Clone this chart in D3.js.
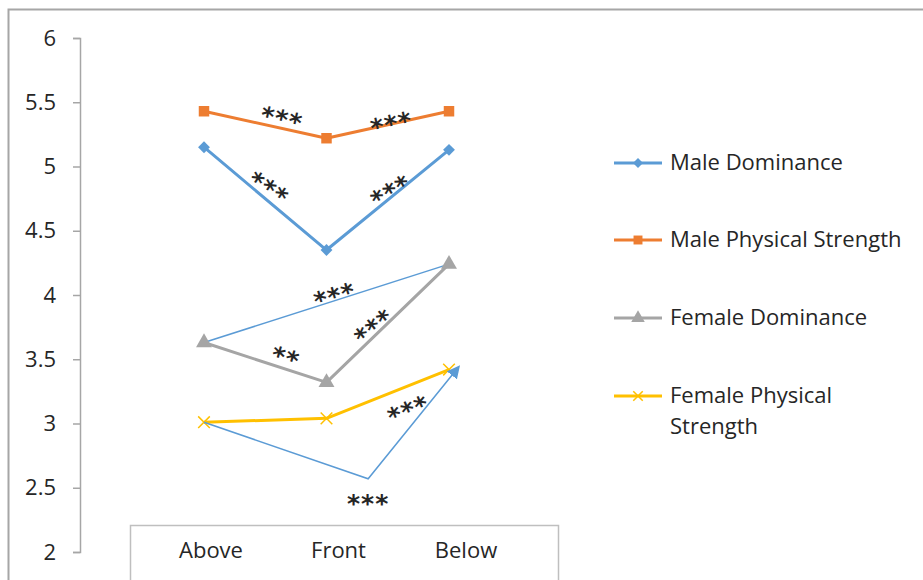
<!DOCTYPE html>
<html>
<head>
<meta charset="utf-8">
<script src="https://cdn.jsdelivr.net/npm/d3@7"></script>
<style>
  body { margin: 0; background: #fff; }
  text { font-family: "Open Sans", sans-serif; fill: #262626; }
</style>
</head>
<body>
<div id="chart"></div>
<script>
const categories = ['Above', 'Front', 'Below'];
const yTicks = [2, 2.5, 3, 3.5, 4, 4.5, 5, 5.5, 6];

const maleDominance = [5.15, 4.35, 5.13];
const malePhysical = [5.43, 5.22, 5.43];
const femaleDominance = [3.63, 3.32, 4.24];
const femalePhysical = [3.01, 3.04, 3.42];

const seriesNames = ['Male Dominance', 'Male Physical Strength', 'Female Dominance', 'Female Physical Strength'];
const seriesValues = [maleDominance, malePhysical, femaleDominance, femalePhysical];

// significance marks: [category position, value, label, tilt]
const starMarks = [
  [0.645, 5.42, '***', 13],
  [1.52, 5.38, '***', -12],
  [0.555, 4.87, '***', 33],
  [1.50, 4.85, '***', -30],
  [1.053, 4.04, '***', -16],
  [1.355, 3.79, '***', -38],
  [0.68, 3.56, '**', 16],
  [1.65, 3.15, '***', -22],
  [1.34, 2.43, '***', 0]
];

// thin comparison lines (category position, value)
const compareA = [[0, 3.63], [2, 4.24]];
const compareB = [[0, 3.01], [1.34, 2.57], [2.07, 3.43]];

const W = 923, H = 580;
const colors = ['#5B9BD5', '#ED7D31', '#A5A5A5', '#FFC000'];
const symbols = [d3.symbolSquare, d3.symbolSquare, d3.symbolTriangle, d3.symbolX];
const symRot = [45, 0, 0, 0];
const symSize = [70, 110, 110, 90];

const svg = d3.select('#chart').append('svg')
  .attr('width', W).attr('height', H);

svg.append('defs').append('marker')
  .attr('id', 'arrow')
  .attr('viewBox', '0 0 10 10')
  .attr('refX', 7).attr('refY', 5)
  .attr('markerWidth', 13).attr('markerHeight', 13)
  .attr('markerUnits', 'userSpaceOnUse')
  .attr('orient', 'auto')
  .append('path')
  .attr('d', 'M0,0 L10,5 L0,10 z')
  .attr('fill', colors[0]);

// outer frame
svg.append('rect')
  .attr('x', 8.5).attr('y', 9.5)
  .attr('width', 1000).attr('height', 1000)
  .attr('fill', 'none').attr('stroke', '#a6a6a6').attr('stroke-width', 2);

const x = d3.scaleLinear().domain([0, 2]).range([204, 449]);
const y = d3.scaleLinear().domain([2, 6]).range([552, 38]);

// y axis
const yAxis = svg.append('g')
  .attr('transform', 'translate(80,0)')
  .call(d3.axisLeft(y).tickValues(yTicks).tickSize(7).tickPadding(17).tickFormat(d3.format('')));
yAxis.select('.domain').attr('stroke', '#a6a6a6').attr('stroke-width', 1.5);
yAxis.selectAll('.tick line').attr('stroke', '#a6a6a6').attr('stroke-width', 1.5);
yAxis.selectAll('text')
  .style('font-family', '"Open Sans", sans-serif')
  .style('font-size', '22px')
  .attr('fill', '#262626');

// category box
svg.append('rect')
  .attr('x', 130.5).attr('y', 525.5)
  .attr('width', 428).attr('height', 100)
  .attr('fill', '#fff').attr('stroke', '#bfbfbf').attr('stroke-width', 1.5);

const xLab = d3.scalePoint().domain(categories).range([211, 466]);
svg.selectAll('.cat')
  .data(categories)
  .enter()
  .append('text')
  .attr('class', 'cat')
  .attr('x', d => xLab(d))
  .attr('y', 552)
  .attr('text-anchor', 'middle')
  .attr('dominant-baseline', 'middle')
  .style('font-size', '22px')
  .text(d => d);

const line = d3.line().x(d => x(d[0])).y(d => y(d[1]));

// comparison line between dominance endpoints
svg.append('path')
  .attr('d', line(compareA))
  .attr('fill', 'none').attr('stroke', colors[0]).attr('stroke-width', 1.5);

// series lines
seriesValues.forEach((vals, i) => {
  const pts = vals.map((v, j) => [j, v]);
  svg.append('path')
    .attr('d', line(pts))
    .attr('fill', 'none')
    .attr('stroke', colors[i])
    .attr('stroke-width', 3)
    .attr('stroke-linejoin', 'round');

  svg.selectAll('.pt' + i)
    .data(pts)
    .enter()
    .append('path')
    .attr('class', 'pt' + i)
    .attr('transform', d => `translate(${x(d[0])},${y(d[1])}) rotate(${symRot[i]})`)
    .attr('d', d3.symbol().type(symbols[i]).size(symSize[i]))
    .attr('fill', i === 3 ? 'none' : colors[i])
    .attr('stroke', colors[i])
    .attr('stroke-width', i === 3 ? 1.5 : 0);
});

// arrowed comparison line on top
svg.append('path')
  .attr('d', line(compareB))
  .attr('fill', 'none').attr('stroke', colors[0]).attr('stroke-width', 1.5)
  .attr('marker-end', 'url(#arrow)');

// significance stars
svg.selectAll('.stars')
  .data(starMarks)
  .enter()
  .append('text')
  .attr('class', 'stars')
  .attr('transform', d => `translate(${x(d[0])},${y(d[1])}) rotate(${d[3]})`)
  .attr('text-anchor', 'middle')
  .attr('dy', '0.62em')
  .style('font-family', '"DejaVu Sans", sans-serif')
  .style('font-size', '25px')
  .style('font-weight', 'bold')
  .style('letter-spacing', '1px')
  .attr('fill', '#1a1a1a')
  .text(d => d[2]);

// legend
const legendRows = [163, 240, 318, 396];
const lg = svg.selectAll('.legend')
  .data(seriesNames)
  .enter()
  .append('g')
  .attr('class', 'legend')
  .attr('transform', (d, i) => `translate(614,${legendRows[i]})`);

lg.append('line')
  .attr('x1', 0).attr('x2', 48)
  .attr('stroke', (d, i) => colors[i])
  .attr('stroke-width', 3);

lg.append('path')
  .attr('transform', (d, i) => `translate(24,0) rotate(${symRot[i]})`)
  .attr('d', (d, i) => d3.symbol().type(symbols[i]).size(i === 0 ? 50 : (i === 3 ? 60 : 80))())
  .attr('fill', (d, i) => i === 3 ? 'none' : colors[i])
  .attr('stroke', (d, i) => colors[i])
  .attr('stroke-width', (d, i) => i === 3 ? 1.5 : 0);

lg.append('text')
  .attr('x', 56)
  .attr('dominant-baseline', 'middle')
  .style('font-size', '22px')
  .each(function (d) {
    const t = d3.select(this);
    const words = d === 'Female Physical Strength' ? ['Female Physical', 'Strength'] : [d];
    words.forEach((w, k) => {
      t.append('tspan').attr('x', 56).attr('dy', k === 0 ? 1 : 31).text(w);
    });
  });
</script>
</body>
</html>
